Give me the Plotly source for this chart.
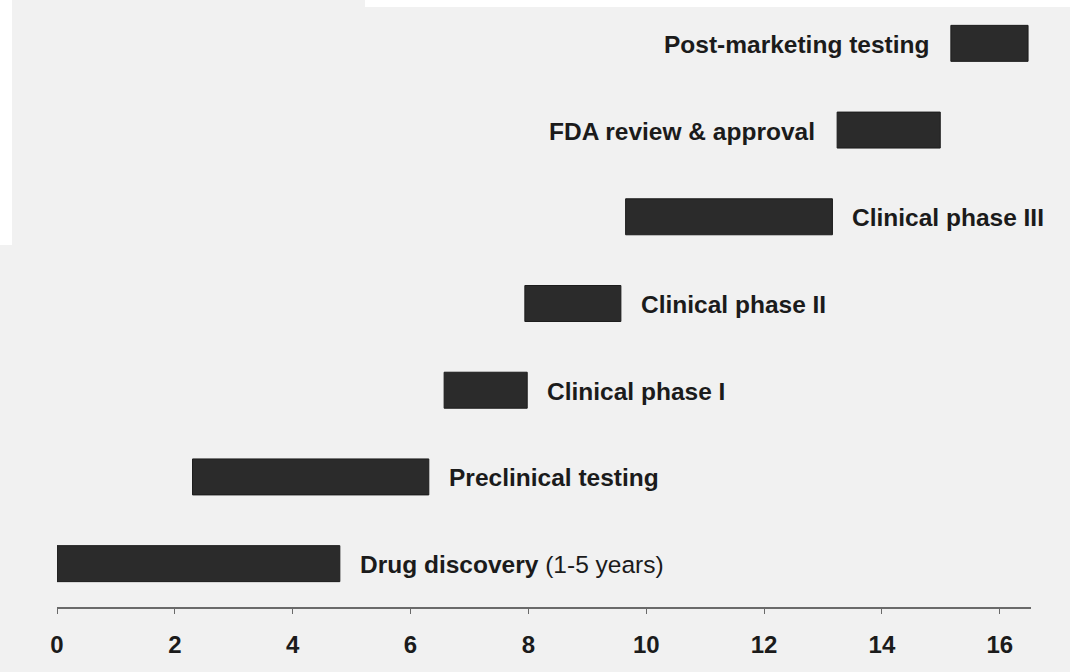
import plotly.graph_objects as go

# stages of drug development, years from start
stages = ['Drug discovery', 'Preclinical testing', 'Clinical phase I',
          'Clinical phase II', 'Clinical phase III',
          'FDA review & approval', 'Post-marketing testing']
notes = ['(1-5 years)', '', '', '', '', '', '']
start_yr = [0.0, 2.3, 6.57, 7.94, 9.65, 13.24, 15.17]
end_yr = [4.8, 6.31, 7.98, 9.57, 13.16, 14.99, 16.48]
label_side = ['right', 'right', 'right', 'right', 'right', 'left', 'left']
tick_vals = [0, 2, 4, 6, 8, 10, 12, 14, 16]

C = {'bg': '#f1f1f1', 'bar': '#2b2b2b', 'edge': '#1c1c1c',
     'text': '#1b1b1b', 'axis': '#6a6a6a'}
FONT = 'Liberation Sans, Arial, sans-serif'

rows = list(range(len(stages)))
dur = [e - s for s, e in zip(start_yr, end_yr)]

fig = go.Figure(go.Bar(
    y=rows, x=dur, base=start_yr, orientation='h', width=0.415,
    marker=dict(color=C['bar'], line=dict(color=C['edge'], width=1)),
    showlegend=False, hoverinfo='skip',
))

for i, name in enumerate(stages):
    txt = f'<b>{name}</b>'
    if notes[i]:
        txt += f' {notes[i]}'
    if label_side[i] == 'right':
        fig.add_annotation(x=end_yr[i], y=i, text=txt, showarrow=False,
                           xanchor='left', xshift=18, yshift=-1)
    else:
        fig.add_annotation(x=start_yr[i], y=i, text=txt, showarrow=False,
                           xanchor='right', xshift=-20, yshift=-1)

fig.update_annotations(font=dict(family=FONT, size=24.5, color=C['text']))

fig.update_layout(
    width=1070, height=672,
    paper_bgcolor=C['bg'], plot_bgcolor=C['bg'],
    margin=dict(l=57, r=39, t=0, b=65),
    font=dict(family=FONT, color=C['text']),
    xaxis=dict(range=[0, 16.53], tickvals=tick_vals, showgrid=False,
               zeroline=False, showline=True, linecolor=C['axis'],
               linewidth=1.5, ticks='outside', ticklen=5, tickwidth=1.2,
               tickcolor=C['axis'], ticklabelstandoff=10,
               tickfont=dict(family=FONT, size=24, color=C['text'],
                             weight='bold')),
    yaxis=dict(range=[-0.5, 6.5], visible=False),
    shapes=[
        # white paper edges of the scanned page
        dict(type='rect', xref='paper', yref='paper', x0=(365 - 57) / 974,
             x1=1.05, y0=(672 - 7 - 65) / 607, y1=(672 - 65) / 607 + 0.2,
             fillcolor='white', line_width=0, layer='below'),
        dict(type='rect', xref='paper', yref='paper', x0=-0.06,
             x1=(12 - 57) / 974, y0=(672 - 245 - 65) / 607, y1=1.2,
             fillcolor='white', line_width=0, layer='below'),
    ],
)

fig.write_html('out.html', config={'displayModeBar': False},
               post_script="document.body.style.margin='0';")
